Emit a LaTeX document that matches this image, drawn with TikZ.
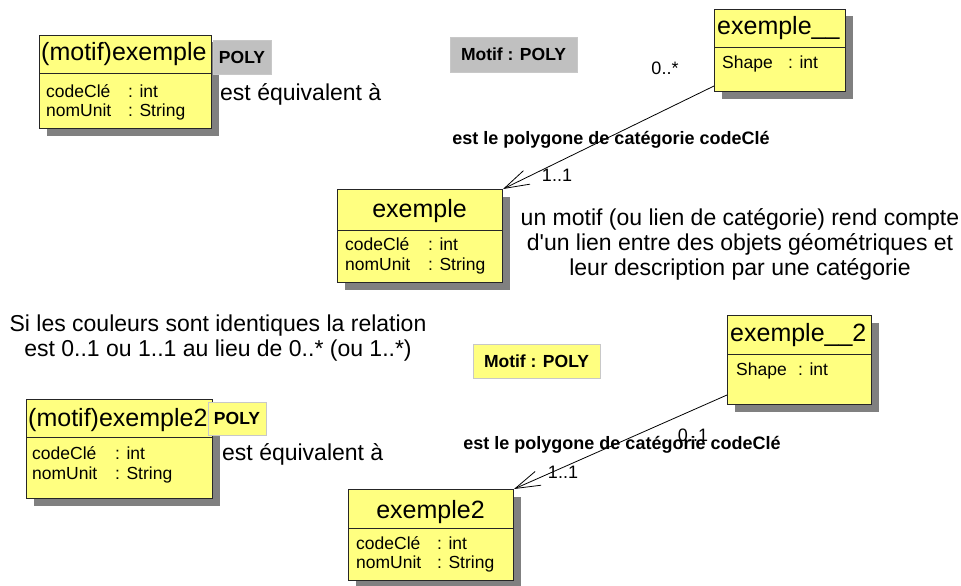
\documentclass[tikz,border=0pt]{standalone}
\usepackage{fontspec}
\setmainfont{Liberation Sans}
\usetikzlibrary{arrows.meta,shadows,calc}
\definecolor{classfill}{RGB}{255,255,128}
\definecolor{shadowgray}{RGB}{128,128,128}
\definecolor{notegray}{RGB}{192,192,192}
\definecolor{noteedge}{RGB}{200,200,200}
\tikzset{
  cls/.style={draw=black!85, line width=1pt, fill=classfill, anchor=north west,
    inner sep=0pt, drop shadow={shadow xshift=7pt, shadow yshift=-7pt, fill=shadowgray, opacity=1}},
  ctitle/.style={font=\fontsize{25}{28}\selectfont, inner sep=0pt},
  attr/.style={font=\fontsize{17.5}{20}\selectfont, inner sep=0pt, anchor=base west},
  remark/.style={font=\fontsize{23}{25}\selectfont, inner sep=0pt},
  tag/.style={font=\bfseries\fontsize{17.5}{20}\selectfont, inner sep=0pt, anchor=center},
  graytag/.style={tag, fill=notegray, draw=noteedge, line width=0.8pt},
  yellowtag/.style={tag, fill=classfill, draw=noteedge, line width=0.8pt},
  mult/.style={font=\fontsize{18}{20}\selectfont, inner sep=0pt, anchor=center},
  rolelabel/.style={font=\bfseries\fontsize{18}{20}\selectfont, inner sep=0pt, anchor=center},
  assoc/.style={line width=0.8pt, -{Straight Barb[length=25pt,width=15pt]}},
  divider/.style={line width=1pt, draw=black!85},
}
\begin{document}
\begin{tikzpicture}[x=1pt,y=-1pt]
\useasboundingbox (0,0) rectangle (961,586);

% ---- class (motif)exemple ----
\node[cls, minimum width=172pt, minimum height=93pt] (m1) at (39,35) {};
\draw[divider] ($(m1.north west)+(0,39)$) -- ($(m1.north east)+(0,39)$);
\node[ctitle, anchor=base west] (m1t) at (41,61) {(motif)exemple};
\node[attr] (m1a) at (46,97) {codeCl\'e};
\node[attr] (m1at) at (128,97) {: int};
\node[attr] (m1b) at (46,116) {nomUnit};
\node[attr] (m1bt) at (128,116) {: String};
\node[graytag, minimum width=58pt, minimum height=34pt] (poly1) at (242,57) {POLY};
\node[remark, anchor=base west] (eq1) at (220,100) {est \'equivalent \`a};

% ---- class exemple__ and its association ----
\node[graytag, minimum width=127pt, minimum height=35pt] (motif1) at (513.5,54.5) {Motif : POLY};
\node[cls, minimum width=131pt, minimum height=82pt] (exu) at (714,9) {};
\draw[divider] ($(exu.north west)+(0,39)$) -- ($(exu.north east)+(0,39)$);
\node[ctitle, anchor=base west] (exut) at (717,35) {exemple\_\_};
\node[attr] (exua) at (722,69) {Shape};
\node[attr] (exuat) at (788,69) {: int};

\node[cls, minimum width=165pt, minimum height=93pt] (ex) at (337,189) {};
\draw[divider] ($(ex.north west)+(0,41)$) -- ($(ex.north east)+(0,41)$);
\node[ctitle, anchor=base] (ext) at (419.5,217) {exemple};
\node[attr] (exa) at (345,250) {codeCl\'e};
\node[attr] (exat) at (428,250) {: int};
\node[attr] (exb) at (345,270) {nomUnit};
\node[attr] (exbt) at (428,270) {: String};

\draw[assoc] ([yshift=6pt]exu.south west) -- (ex.north east);
\node[mult] (mu1) at (665,68) {0..*};
\node[rolelabel] (role1) at (611,140) {est le polygone de cat\'egorie codeCl\'e};
\node[mult] (mu2) at (557,175) {1..1};

% ---- explanatory remarks ----
\node[remark, anchor=base] (r1) at (740,225) {un motif (ou lien de cat\'egorie) rend compte};
\node[remark, anchor=base] (r2) at (740,250) {d\textquotesingle un lien entre des objets g\'eom\'etriques et};
\node[remark, anchor=base] (r3) at (740,275) {leur description par une cat\'egorie};
\node[remark, anchor=base] (s1) at (218,331) {Si les couleurs sont identiques la relation};
\node[remark, anchor=base] (s2) at (218,356) {est 0..1 ou 1..1 au lieu de 0..* (ou 1..*)};

% ---- class (motif)exemple2 ----
\node[cls, minimum width=186pt, minimum height=99pt] (m2) at (26,399) {};
\draw[divider] ($(m2.north west)+(0,38)$) -- ($(m2.north east)+(0,38)$);
\node[ctitle, anchor=base west] (m2t) at (28,426) {(motif)exemple2};
\node[attr] (m2a) at (32,459) {codeCl\'e};
\node[attr] (m2at) at (115,459) {: int};
\node[attr] (m2b) at (32,479) {nomUnit};
\node[attr] (m2bt) at (115,479) {: String};
\node[yellowtag, minimum width=58pt, minimum height=33pt] (poly2) at (237,418.5) {POLY};
\node[remark, anchor=base west] (eq2) at (222,460) {est \'equivalent \`a};

% ---- class exemple__2 and its association ----
\node[yellowtag, minimum width=127pt, minimum height=34pt] (motif2) at (536.5,361) {Motif : POLY};
\node[cls, minimum width=144pt, minimum height=89pt] (exu2) at (727,315) {};
\draw[divider] ($(exu2.north west)+(0,39)$) -- ($(exu2.north east)+(0,39)$);
\node[ctitle, anchor=base west] (exu2t) at (730,341) {exemple\_\_2};
\node[attr] (exu2a) at (736,375) {Shape};
\node[attr] (exu2at) at (798,375) {: int};

\node[cls, minimum width=165pt, minimum height=91pt] (ex2) at (348,489) {};
\draw[divider] ($(ex2.north west)+(0,39)$) -- ($(ex2.north east)+(0,39)$);
\node[ctitle, anchor=base] (ex2t) at (430.5,518) {exemple2};
\node[attr] (ex2a) at (356,549) {codeCl\'e};
\node[attr] (ex2at) at (437,549) {: int};
\node[attr] (ex2b) at (356,568) {nomUnit};
\node[attr] (ex2bt) at (437,568) {: String};

\draw[assoc] ([yshift=10pt]exu2.south west) -- (ex2.north east);
\node[rolelabel] (role2) at (622,445) {est le polygone de cat\'egorie codeCl\'e};
\node[mult] (mu3) at (693,435) {0..1};
\node[mult] (mu4) at (563,472) {1..1};
\end{tikzpicture}
\end{document}
